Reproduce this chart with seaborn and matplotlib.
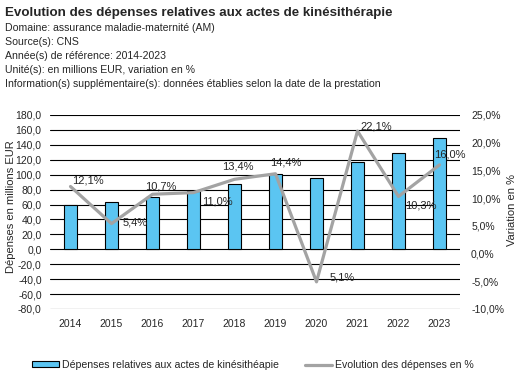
import numpy as np
import pandas as pd
import seaborn as sns
import matplotlib.pyplot as plt
from matplotlib.ticker import FuncFormatter, MultipleLocator
from matplotlib.patches import Patch
from matplotlib.lines import Line2D

# données
annees = ["2014", "2015", "2016", "2017", "2018", "2019", "2020", "2021", "2022", "2023"]
depenses = [60.0, 63.2, 69.9, 77.6, 88.0, 100.7, 95.6, 116.7, 128.7, 149.3]
variation = [12.1, 5.4, 10.7, 11.0, 13.4, 14.4, -5.1, 22.1, 10.3, 16.0]
etiquettes = ["12,1%", "5,4%", "10,7%", "11,0%", "13,4%", "14,4%", "5,1%", "22,1%", "10,3%", "16,0%"]

titre = "Evolution des dépenses relatives aux actes de kinésithérapie"
infos = [
    "Domaine: assurance maladie-maternité (AM)",
    "Source(s): CNS",
    "Année(s) de référence: 2014-2023",
    "Unité(s): en millions EUR, variation en %",
    "Information(s) supplémentaire(s): données établies selon la date de la prestation",
]

df = pd.DataFrame({"annee": annees, "depenses": depenses, "variation": variation})
df["pos"] = np.arange(len(df))

sns.set_style("white")
plt.rcParams["font.family"] = ["Liberation Sans", "DejaVu Sans"]

bleu = "#5BC5F2"
gris = "#A3A3A3"

fig = plt.figure(figsize=(5.25, 3.8), dpi=100)
ax = fig.add_axes([50 / 525, 1 - 309 / 380, 410 / 525, 194 / 380])

sns.barplot(data=df, x="annee", y="depenses", color=bleu, width=0.31,
            edgecolor="black", linewidth=0.8, saturation=1, ax=ax, zorder=3)
ax.set_xlim(-0.5, len(df) - 0.5)
ax.set_ylim(-80, 180)
ax.yaxis.set_major_locator(MultipleLocator(20))
ax.yaxis.set_major_formatter(FuncFormatter(lambda v, p: f"{v:.1f}".replace(".", ",")))
ax.grid(axis="y", color="black", linewidth=0.8, zorder=0)
ax.set_axisbelow(True)
for s in ax.spines.values():
    s.set_visible(False)
ax.tick_params(axis="both", length=0, labelsize=7.5, pad=6)
ax.tick_params(axis="x", pad=7)
ax.set_xlabel("")
ax.set_ylabel("Dépenses en millions EUR", fontsize=8)
ax.yaxis.set_label_coords(-0.082, 0.53)

ax2 = ax.twinx()
sns.lineplot(data=df, x="pos", y="variation", color=gris, linewidth=2.3, ax=ax2, zorder=4)
ax2.set_ylim(-10, 25)
ax2.yaxis.set_major_locator(MultipleLocator(5))
ax2.yaxis.set_major_formatter(FuncFormatter(lambda v, p: f"{v:.1f}%".replace(".", ",")))
for s in ax2.spines.values():
    s.set_visible(False)
ax2.tick_params(axis="y", length=0, labelsize=7.5, pad=8)
ax2.set_ylabel("Variation en %", fontsize=8)
ax2.yaxis.set_label_coords(1.115, 0.51)
ax2.set_xlabel("")

# positions des étiquettes (décalage en pixels)
decalages = [(17, 6), (24, 1), (8, 8), (24, -9), (3, 13), (10, 11), (26, 4), (19, 5), (22, -9), (10, 10)]
for i, (txt, (dx, dy)) in enumerate(zip(etiquettes, decalages)):
    ax2.annotate(txt, (df["pos"][i], df["variation"][i]), xytext=(dx, dy),
                 textcoords="offset pixels", ha="center", va="center", fontsize=8, zorder=5)

fig.text(5 / 525, 1 - 13 / 380, titre, fontsize=9.6, fontweight="bold", va="center")
for k, ligne in enumerate(infos):
    fig.text(5 / 525, 1 - (28 + 14 * k) / 380, ligne, fontsize=7.6, va="center")

poignees = [Patch(facecolor=bleu, edgecolor="black", linewidth=0.8),
            Line2D([0], [0], color=gris, linewidth=2.3)]
noms = ["Dépenses relatives aux actes de kinésithéapie", "Evolution des dépenses en %"]
fig.legend(poignees, noms, loc="center", bbox_to_anchor=(253 / 525, 1 - 365 / 380), ncol=2,
           frameon=False, fontsize=7.6, handlelength=2.5, handleheight=0.5,
           handletextpad=0.3, columnspacing=2.5)

fig.savefig("out.png", dpi=100)
